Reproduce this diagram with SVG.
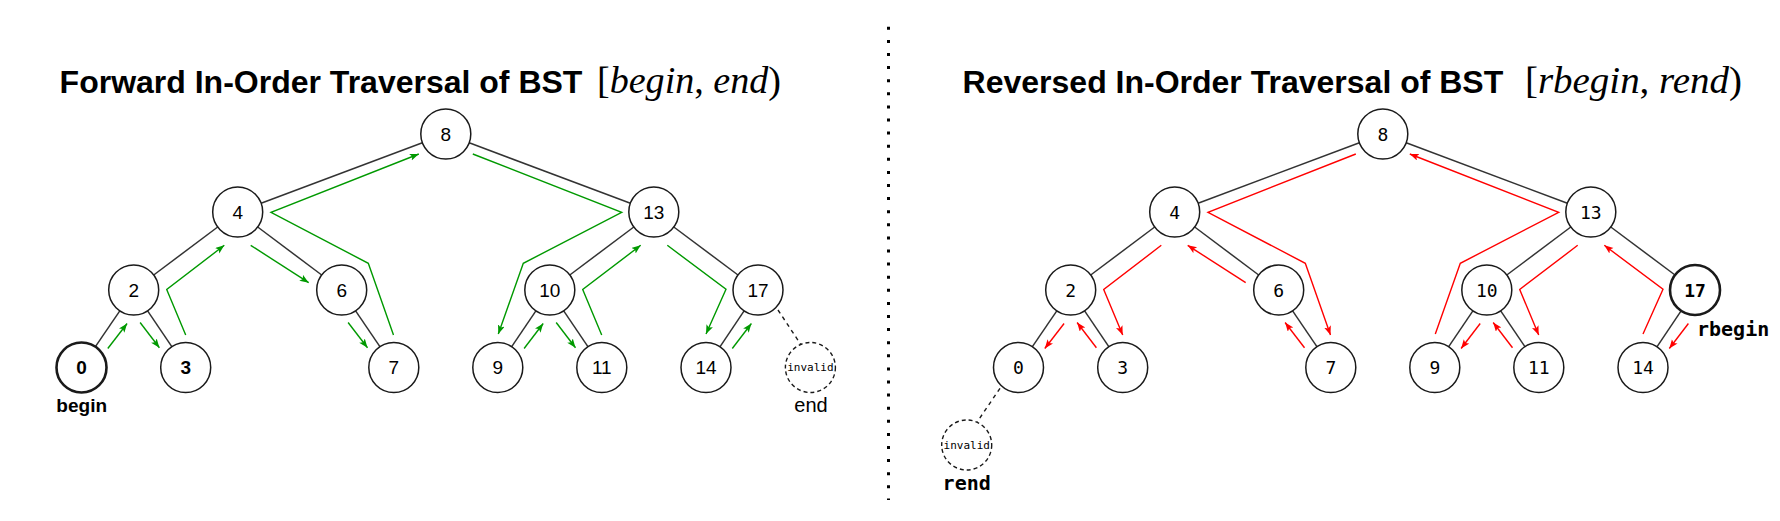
<svg xmlns="http://www.w3.org/2000/svg" width="1780" height="521" viewBox="0 0 1780 521">
<style>
.bg{fill:#ffffff}
.node{fill:#ffffff;stroke:#1a1a1a;stroke-width:1.5}
.bold{stroke-width:2.6}
.inv{fill:#ffffff;stroke:#1a1a1a;stroke-width:1.4;stroke-dasharray:4 3}
.edge{stroke:#333333;stroke-width:1.5;fill:none}
.dash{stroke:#1a1a1a;stroke-width:1.4;fill:none;stroke-dasharray:4 4}
.g{stroke:#009900;stroke-width:1.4;fill:none;marker-end:url(#ag)}
.r{stroke:#ff0000;stroke-width:1.4;fill:none;marker-end:url(#ar)}
.ll{font-family:"Liberation Sans",Arial,sans-serif;font-size:19px;fill:#000;text-anchor:middle}
.rl{font-family:"DejaVu Sans Mono",monospace;font-size:18px;fill:#000;text-anchor:middle}
.iv{font-family:"DejaVu Sans Mono",monospace;font-size:11px;fill:#000;text-anchor:middle}
.title{font-family:"Liberation Sans",Arial,sans-serif;font-size:32px;font-weight:bold;fill:#000}
.math{font-family:"Liberation Serif","Times New Roman",serif;font-size:37px;fill:#000}
.it{font-style:italic}
.b{font-weight:bold}
</style>
<defs>
<marker id="ag" markerUnits="userSpaceOnUse" markerWidth="10" markerHeight="8" refX="9" refY="3.5" orient="auto">
<path d="M0,0 L9,3.5 L0,7 L2,3.5 Z" fill="#009900"/>
</marker>
<marker id="ar" markerUnits="userSpaceOnUse" markerWidth="10" markerHeight="8" refX="9" refY="3.5" orient="auto">
<path d="M0,0 L9,3.5 L0,7 L2,3.5 Z" fill="#ff0000"/>
</marker>
</defs>
<rect class="bg" x="0" y="0" width="1780" height="521"/>

<g id="titles">
<text class="title" x="59.6" y="93.3">Forward In-Order Traversal of BST</text>
<text class="math" x="597" y="92.5" textLength="184" lengthAdjust="spacingAndGlyphs">[<tspan class="it">begin</tspan>, <tspan class="it">end</tspan>)</text>
<text class="title" x="962.6" y="93.3">Reversed In-Order Traversal of BST</text>
<text class="math" x="1525" y="92.5" textLength="217" lengthAdjust="spacingAndGlyphs">[<tspan class="it">rbegin</tspan>, <tspan class="it">rend</tspan>)</text>
</g>

<g id="separator">
<line x1="888.5" y1="26.8" x2="888.5" y2="500" stroke="#000" stroke-width="3" stroke-dasharray="3 10.1"/>
</g>

<g id="connectors">
<!-- left tree edges -->
<line class="edge" x1="422.4" y1="142.8" x2="261.1" y2="203.2"/>
<line class="edge" x1="469.2" y1="142.8" x2="630.4" y2="203.2"/>
<line class="edge" x1="217.7" y1="227" x2="153.7" y2="275"/>
<line class="edge" x1="257.7" y1="227" x2="321.7" y2="275"/>
<line class="edge" x1="633.8" y1="227" x2="569.8" y2="275"/>
<line class="edge" x1="673.8" y1="227" x2="738" y2="275"/>
<line class="edge" x1="119.8" y1="310.8" x2="95.4" y2="346.7"/>
<line class="edge" x1="147.6" y1="310.8" x2="171.8" y2="346.7"/>
<line class="edge" x1="355.6" y1="310.8" x2="379.9" y2="346.7"/>
<line class="edge" x1="535.9" y1="310.8" x2="511.7" y2="346.7"/>
<line class="edge" x1="563.7" y1="310.8" x2="587.9" y2="346.7"/>
<line class="edge" x1="744.1" y1="310.8" x2="720.1" y2="346.7"/>
<line class="dash" x1="778" y1="310" x2="800.5" y2="344"/>
<!-- right tree edges -->
<line class="edge" x1="1359.4" y1="142.8" x2="1198.1" y2="203.2"/>
<line class="edge" x1="1406.2" y1="142.8" x2="1567.4" y2="203.2"/>
<line class="edge" x1="1154.7" y1="227" x2="1090.7" y2="275"/>
<line class="edge" x1="1194.7" y1="227" x2="1258.7" y2="275"/>
<line class="edge" x1="1570.8" y1="227" x2="1506.8" y2="275"/>
<line class="edge" x1="1610.8" y1="227" x2="1675" y2="275"/>
<line class="edge" x1="1056.8" y1="310.8" x2="1032.4" y2="346.7"/>
<line class="edge" x1="1084.6" y1="310.8" x2="1108.8" y2="346.7"/>
<line class="edge" x1="1292.6" y1="310.8" x2="1316.9" y2="346.7"/>
<line class="edge" x1="1472.9" y1="310.8" x2="1448.7" y2="346.7"/>
<line class="edge" x1="1500.7" y1="310.8" x2="1524.9" y2="346.7"/>
<line class="edge" x1="1681.1" y1="310.8" x2="1657.1" y2="346.7"/>
<line class="dash" x1="1000" y1="388.3" x2="977.3" y2="421.7"/>
<!-- forward traversal (green) -->
<path class="g" d="M107.8,348.5 L127.1,323.5"/>
<path class="g" d="M140.1,322.5 L159.4,347.7"/>
<path class="g" d="M185.7,335 L166.7,289.5 L224.3,245.3"/>
<path class="g" d="M250.7,245.3 L308.7,282.7"/>
<path class="g" d="M348.1,322.5 L367.5,347.7"/>
<path class="g" d="M393.5,335 L368.3,263.3 L271,212.3 L418.8,154"/>
<path class="g" d="M472.8,154 L621.7,212.3 L523.3,263.3 L498.3,334"/>
<path class="g" d="M524.1,348.5 L543.2,323.5"/>
<path class="g" d="M556.2,322.5 L575.5,347.7"/>
<path class="g" d="M601.7,335 L582.7,289.5 L640.7,245.3"/>
<path class="g" d="M667.3,245.3 L726,289.3 L706,334"/>
<path class="g" d="M732.3,348.5 L751.4,323.5"/>
<!-- reversed traversal (red) -->
<path class="r" d="M1688.4,323.5 L1669.3,348.5"/>
<path class="r" d="M1643,334 L1663,289.3 L1604.3,245.3"/>
<path class="r" d="M1577.7,245.3 L1519.7,289.5 L1538.7,335"/>
<path class="r" d="M1512.5,347.7 L1493.2,322.5"/>
<path class="r" d="M1480.2,323.5 L1461.1,348.5"/>
<path class="r" d="M1435.3,334 L1460.3,263.3 L1558.7,212.3 L1409.8,154"/>
<path class="r" d="M1355.8,154 L1208,212.3 L1305.3,263.3 L1330.5,335"/>
<path class="r" d="M1304.5,347.7 L1285.1,322.5"/>
<path class="r" d="M1245.7,282.7 L1187.7,245.3"/>
<path class="r" d="M1161.3,245.3 L1103.7,289.5 L1122.7,335"/>
<path class="r" d="M1096.4,347.7 L1077.1,322.5"/>
<path class="r" d="M1064.1,323.5 L1044.8,348.5"/>
</g>

<!-- left tree nodes -->
<g id="L8"><circle class="node" cx="445.8" cy="134" r="25"/><text class="ll" x="445.8" y="140.8">8</text></g>
<g id="L4"><circle class="node" cx="237.7" cy="212" r="25"/><text class="ll" x="237.7" y="218.8">4</text></g>
<g id="L13"><circle class="node" cx="653.8" cy="212" r="25"/><text class="ll" x="653.8" y="218.8">13</text></g>
<g id="L2"><circle class="node" cx="133.7" cy="290" r="25"/><text class="ll" x="133.7" y="296.8">2</text></g>
<g id="L6"><circle class="node" cx="341.7" cy="290" r="25"/><text class="ll" x="341.7" y="296.8">6</text></g>
<g id="L10"><circle class="node" cx="549.8" cy="290" r="25"/><text class="ll" x="549.8" y="296.8">10</text></g>
<g id="L17"><circle class="node" cx="758" cy="290" r="25"/><text class="ll" x="758" y="296.8">17</text></g>
<g id="L0"><circle class="node bold" cx="81.5" cy="367.5" r="25"/><text class="ll b" x="81.5" y="374.3">0</text></g>
<g id="L3"><circle class="node" cx="185.7" cy="367.5" r="25"/><text class="ll b" x="185.7" y="374.3">3</text></g>
<g id="L7"><circle class="node" cx="393.8" cy="367.5" r="25"/><text class="ll" x="393.8" y="374.3">7</text></g>
<g id="L9"><circle class="node" cx="497.8" cy="367.5" r="25"/><text class="ll" x="497.8" y="374.3">9</text></g>
<g id="L11"><circle class="node" cx="601.8" cy="367.5" r="25"/><text class="ll" x="601.8" y="374.3">11</text></g>
<g id="L14"><circle class="node" cx="706" cy="367.5" r="25"/><text class="ll" x="706" y="374.3">14</text></g>
<g id="Linvalid"><circle class="inv" cx="810.4" cy="367.5" r="25"/><text class="iv" x="810.4" y="371">invalid</text></g>
<g id="Lbegin"><text x="81.7" y="411.7" font-family="Liberation Sans, Arial, sans-serif" font-size="19" font-weight="bold" text-anchor="middle">begin</text></g>
<g id="Lend"><text x="811" y="412.3" font-family="Liberation Sans, Arial, sans-serif" font-size="20" text-anchor="middle">end</text></g>

<!-- right tree nodes -->
<g id="R8"><circle class="node" cx="1382.8" cy="134" r="25"/><text class="rl" x="1382.8" y="140.6">8</text></g>
<g id="R4"><circle class="node" cx="1174.7" cy="212" r="25"/><text class="rl" x="1174.7" y="218.6">4</text></g>
<g id="R13"><circle class="node" cx="1590.8" cy="212" r="25"/><text class="rl" x="1590.8" y="218.6">13</text></g>
<g id="R2"><circle class="node" cx="1070.7" cy="290" r="25"/><text class="rl" x="1070.7" y="296.6">2</text></g>
<g id="R6"><circle class="node" cx="1278.7" cy="290" r="25"/><text class="rl" x="1278.7" y="296.6">6</text></g>
<g id="R10"><circle class="node" cx="1486.8" cy="290" r="25"/><text class="rl" x="1486.8" y="296.6">10</text></g>
<g id="R17"><circle class="node bold" cx="1695" cy="290" r="25"/><text class="rl b" x="1695" y="296.6">17</text></g>
<g id="R0"><circle class="node" cx="1018.5" cy="367.5" r="25"/><text class="rl" x="1018.5" y="374.1">0</text></g>
<g id="R3"><circle class="node" cx="1122.7" cy="367.5" r="25"/><text class="rl" x="1122.7" y="374.1">3</text></g>
<g id="R7"><circle class="node" cx="1330.8" cy="367.5" r="25"/><text class="rl" x="1330.8" y="374.1">7</text></g>
<g id="R9"><circle class="node" cx="1434.8" cy="367.5" r="25"/><text class="rl" x="1434.8" y="374.1">9</text></g>
<g id="R11"><circle class="node" cx="1538.8" cy="367.5" r="25"/><text class="rl" x="1538.8" y="374.1">11</text></g>
<g id="R14"><circle class="node" cx="1643" cy="367.5" r="25"/><text class="rl" x="1643" y="374.1">14</text></g>
<g id="Rinvalid"><circle class="inv" cx="966.7" cy="445" r="25"/><text class="iv" x="966.7" y="448.5">invalid</text></g>
<g id="Rrbegin"><text x="1697" y="336" font-family="DejaVu Sans Mono, monospace" font-size="20" font-weight="bold">rbegin</text></g>
<g id="Rrend"><text x="966.7" y="490" font-family="DejaVu Sans Mono, monospace" font-size="20" font-weight="bold" text-anchor="middle">rend</text></g>
</svg>
